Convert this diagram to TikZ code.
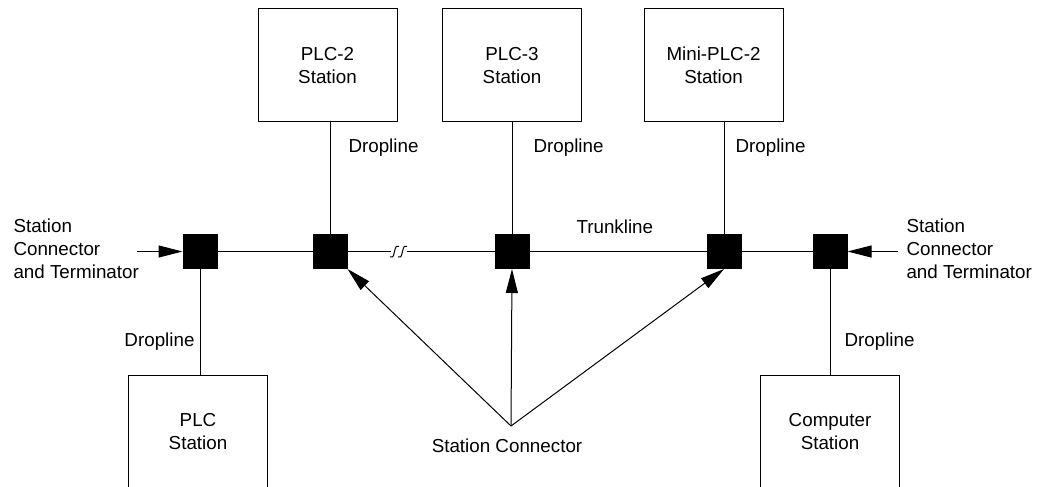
\documentclass[tikz,border=0pt]{standalone}
\usepackage{fontspec}
\setmainfont{Liberation Sans}
\usepackage{tikz}
\usetikzlibrary{positioning,calc,arrows.meta}

\tikzset{
  station/.style={draw, minimum width=69.5pt, minimum height=56.5pt, align=center, inner sep=0pt},
  conn/.style={fill=black, draw=black, minimum size=17pt, inner sep=0pt},
  lbl/.style={align=left, inner sep=0pt},
  pointer/.style={-{Triangle[length=12pt,width=6pt]}},
}

\begin{document}
\begin{tikzpicture}[x=0.5pt, y=-0.5pt, line width=0.5pt, font={\fontsize{9.4pt}{11.5pt}\selectfont}]
        \useasboundingbox (0,0) rectangle (1052,486);
        % stations
        \node[station] (plctwo) at (327.5,65.5) {PLC-2\\Station};
        \node[station] (plcthree) at (512,65.5) {PLC-3\\Station};
        \node[station] (miniplc) at (713.5,65.5) {Mini-PLC-2\\Station};
        \node[station] (plc) at (198,431.5) {PLC\\Station};
        \node[station] (computer) at (830,431.5) {Computer\\Station};
        % station connectors
        \foreach \n/\x in {s1/200, s2/330, s3/512, s4/724, s5/830} {
             \node[conn] (\n) at (\x,251.5) {};
        }
        % droplines
        \draw (s1.south) -- (s1.south |- plc.north);
        \draw (s2.north) -- (s2.north |- plctwo.south);
        \draw (s3.north) -- (plcthree.south);
        \draw (s4.north) -- (s4.north |- miniplc.south);
        \draw (s5.south) -- (computer.north);
        % trunkline with break
        \coordinate (brkA) at (391,251.5);
        \coordinate (brkB) at (407,251.5);
        \draw (s1.east) -- (s2.west);
        \draw (s2.east) -- (brkA);
        \foreach \d in {0,8} {
             \draw[xshift=\d*0.5pt] (390,257) .. controls (392,258.5) and (393.5,257) .. (394.5,251.5)
                   .. controls (395.5,246) and (397,245) .. (399,246.5);
        }
        \draw (brkB) -- (s3.west);
        \draw (s3.east) -- (s4.west);
        \draw (s4.east) -- (s5.west);
        % labels
        \node[lbl, anchor=west] (drop2) at (348,148) {Dropline};
        \node[lbl, anchor=west] (drop3) at (533,148) {Dropline};
        \node[lbl, anchor=west] (drop4) at (735,148) {Dropline};
        \node[lbl, anchor=east] (drop1) at (195,342) {Dropline};
        \node[lbl, anchor=west] (drop5) at (844,342) {Dropline};
        \node[lbl, anchor=west] (trunk) at (576,227) {Trunkline};
        \node[lbl, anchor=west] (termLtext) at (13,249) {Station\\Connector\\and Terminator};
        \node[lbl, anchor=west] (termRtext) at (906,249) {Station\\Connector\\and Terminator};
        \node[lbl] (conntext) at (507,446) {Station Connector};
        % terminator arrows
        \coordinate (termL) at (137,251.5);
        \coordinate (termR) at (898,251.5);
        \draw[pointer] (termL) -- (s1.west);
        \draw[pointer] (termR) -- (s5.east);
        % station connector arrows
        \coordinate (apex) at (511,426);
        \draw[pointer] (apex) -- (s2.south east);
        \draw[pointer] (apex) -- (s3.south);
        \draw[pointer] (apex) -- (s4.south);
    \end{tikzpicture}
\end{document}
